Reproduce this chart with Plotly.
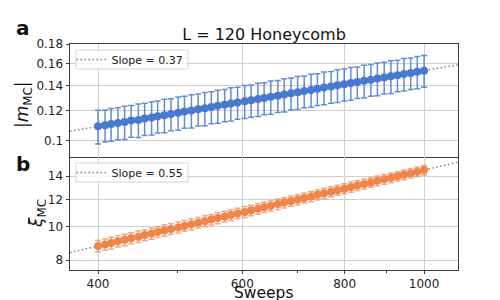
import numpy as np
import plotly.graph_objects as go
from plotly.subplots import make_subplots

# ---- data ----
sweeps = [400, 408, 415, 423, 431, 439, 448, 456, 465, 473, 482, 491, 501, 510, 520,
          530, 540, 550, 560, 571, 581, 592, 604, 615, 627, 638, 650, 663, 675, 688,
          701, 714, 728, 741, 755, 770, 784, 799, 814, 829, 845, 861, 877, 894, 911,
          928, 945, 963, 981, 1000]

m_mc = [0.1093, 0.1100, 0.1108, 0.1115, 0.1121, 0.1131, 0.1136, 0.1145, 0.1152, 0.1162,
        0.1169, 0.1178, 0.1186, 0.1195, 0.1202, 0.1212, 0.1219, 0.1228, 0.1237, 0.1245,
        0.1254, 0.1262, 0.1272, 0.1279, 0.1289, 0.1298, 0.1307, 0.1316, 0.1325, 0.1335,
        0.1344, 0.1353, 0.1363, 0.1372, 0.1382, 0.1391, 0.1402, 0.1411, 0.1421, 0.1430,
        0.1440, 0.1450, 0.1460, 0.1470, 0.1480, 0.1490, 0.1501, 0.1511, 0.1521, 0.1532]

m_err = [0.0112, 0.0106, 0.0110, 0.0108, 0.0113, 0.0109, 0.0115, 0.0111, 0.0116, 0.0113,
         0.0118, 0.0114, 0.0119, 0.0116, 0.0121, 0.0118, 0.0123, 0.0119, 0.0124, 0.0121,
         0.0126, 0.0122, 0.0127, 0.0124, 0.0129, 0.0126, 0.0131, 0.0127, 0.0133, 0.0129,
         0.0134, 0.0131, 0.0136, 0.0132, 0.0137, 0.0134, 0.0139, 0.0136, 0.0141, 0.0137,
         0.0143, 0.0139, 0.0144, 0.0141, 0.0146, 0.0142, 0.0148, 0.0144, 0.0149, 0.0147]

xi_mc = [8.80, 8.89, 8.98, 9.08, 9.17, 9.27, 9.36, 9.46, 9.56, 9.66,
         9.76, 9.86, 9.96, 10.06, 10.17, 10.27, 10.38, 10.49, 10.60, 10.71,
         10.82, 10.93, 11.04, 11.16, 11.27, 11.39, 11.51, 11.63, 11.75, 11.87,
         11.99, 12.12, 12.24, 12.37, 12.50, 12.63, 12.76, 12.89, 13.03, 13.16,
         13.30, 13.44, 13.58, 13.72, 13.86, 14.00, 14.15, 14.29, 14.44, 14.59]

xi_err = [0.34, 0.33, 0.35, 0.34, 0.35, 0.34, 0.36, 0.35, 0.36, 0.35,
          0.37, 0.36, 0.37, 0.36, 0.38, 0.37, 0.38, 0.37, 0.39, 0.38,
          0.39, 0.38, 0.40, 0.39, 0.40, 0.39, 0.41, 0.40, 0.41, 0.40,
          0.42, 0.41, 0.42, 0.41, 0.43, 0.42, 0.43, 0.42, 0.44, 0.43,
          0.44, 0.43, 0.45, 0.44, 0.45, 0.44, 0.46, 0.45, 0.46, 0.46]

x_ticks = [400, 600, 800, 1000]
x_minor = [500, 700, 900]
m_ticks = [0.1, 0.12, 0.14, 0.16, 0.18]
m_ticktext = ["0.1", "0.12", "0.14", "0.16", "0.18"]
xi_ticks = [8, 10, 12, 14]

X_MIN, X_MAX = 369.7, 1100.0
title_text = "L = 120 Honeycomb"
x_label = "Sweeps"
m_label = "|<i>m</i><sub>MC</sub>|"
xi_label = "<i>ξ</i><sub>MC</sub>"

BLUE = "#4878d0"
ORANGE = "#ee854a"
FONT = "DejaVu Sans"

# ---- power-law fits in log-log space ----
lx = np.log10(sweeps)
sm, im = np.polyfit(lx, np.log10(m_mc), 1)
sx, ix = np.polyfit(lx, np.log10(xi_mc), 1)
fit_x = np.array([X_MIN, X_MAX])
fit_m = 10 ** (im + sm * np.log10(fit_x))
fit_xi = 10 ** (ix + sx * np.log10(fit_x))

fig = make_subplots(rows=2, cols=1, shared_xaxes=True, vertical_spacing=0)

fig.add_trace(go.Scatter(x=fit_x, y=fit_m, mode="lines",
                         line=dict(color="#808080", width=1.5, dash="1.5px,2.5px"),
                         name=f"Slope = {sm:.2f}", legend="legend"), row=1, col=1)
fig.add_trace(go.Scatter(x=sweeps, y=m_mc, mode="markers",
                         marker=dict(color=BLUE, size=8),
                         error_y=dict(type="data", array=m_err, color="rgba(72,120,208,0.85)",
                                      thickness=1.5, width=3),
                         showlegend=False), row=1, col=1)

fig.add_trace(go.Scatter(x=fit_x, y=fit_xi, mode="lines",
                         line=dict(color="#808080", width=1.5, dash="1.5px,2.5px"),
                         name=f"Slope = {sx:.2f}", legend="legend2"), row=2, col=1)
fig.add_trace(go.Scatter(x=sweeps, y=xi_mc, mode="markers",
                         marker=dict(color=ORANGE, size=8),
                         error_y=dict(type="data", array=xi_err, color="rgba(238,133,74,0.7)",
                                      thickness=1.5, width=3),
                         showlegend=False), row=2, col=1)

axis_common = dict(showline=True, linecolor="#3a3a3a", linewidth=1,
                   showgrid=True, gridcolor="#cfcfcf", gridwidth=1, zeroline=False,
                   tickcolor="#3a3a3a", automargin=False,
                   tickfont=dict(size=12, color="#222222", family=FONT))

fig.update_xaxes(type="log", range=[np.log10(X_MIN), np.log10(X_MAX)],
                 tickvals=x_ticks, ticktext=[str(v) for v in x_ticks],
                 **axis_common)
fig.update_xaxes(showticklabels=False, ticks="", mirror=True, row=1, col=1)
fig.update_xaxes(mirror=False, ticks="outside", ticklen=3,
                 minor=dict(tickvals=x_minor, ticklen=2, tickcolor="#3a3a3a",
                            ticks="outside", showgrid=False),
                 row=2, col=1)

fig.update_yaxes(type="log", range=[-1.0425, -0.7445], tickvals=m_ticks, ticktext=m_ticktext,
                 mirror=True, ticks="outside", ticklen=3.5,
                 row=1, col=1, **axis_common)
fig.update_yaxes(type="log", range=[0.875, 1.2019], tickvals=xi_ticks,
                 ticktext=[str(v) for v in xi_ticks],
                 mirror=True, ticks="outside", ticklen=3.5,
                 row=2, col=1, **axis_common)
fig.update_layout(yaxis=dict(domain=[0.5, 1.0]), yaxis2=dict(domain=[0.0, 0.5]))

legend_style = dict(xanchor="left", yanchor="top", bgcolor="rgba(0,0,0,0)",
                    borderwidth=0,
                    font=dict(size=11, color="#222222", family=FONT),
                    tracegroupgap=0, itemwidth=30)

# legend frames (decoration behind the legend entries)
frame_style = dict(type="rect", xref="paper", yref="paper", layer="above",
                   line=dict(color="#d4d4d4", width=1), fillcolor="rgba(255,255,255,0.8)")

label_style = dict(xref="paper", yref="paper", showarrow=False)

fig.update_layout(
    width=500, height=300,
    margin=dict(l=62, r=50, t=36, b=38, autoexpand=False),
    paper_bgcolor="white", plot_bgcolor="white",
    font=dict(family=FONT, color="#111111"),
    title=dict(text=title_text, x=0.512, xanchor="center", y=0.913, yanchor="middle",
               yref="container", font=dict(size=16, color="#111111")),
    legend=dict(x=0.004, y=0.9956, **legend_style),
    legend2=dict(x=0.004, y=0.4956, **legend_style),
    shapes=[
        dict(x0=0.0155, x1=0.3041, y0=0.8894, y1=0.9735, **frame_style),
        dict(x0=0.0155, x1=0.3041, y0=0.3894, y1=0.4735, **frame_style),
    ],
    annotations=[
        dict(text="<b>a</b>", x=-0.144, y=1.0708, xanchor="left", yanchor="middle",
             font=dict(size=20, color="#111111"), **label_style),
        dict(text="<b>b</b>", x=-0.144, y=0.469, xanchor="left", yanchor="middle",
             font=dict(size=20, color="#111111"), **label_style),
        dict(text=m_label, x=-0.1198, y=0.7323, xanchor="center", yanchor="middle",
             textangle=-90, font=dict(size=17, color="#111111"), **label_style),
        dict(text=xi_label, x=-0.0851, y=0.2522, xanchor="center", yanchor="middle",
             textangle=-90, font=dict(size=17, color="#111111"), **label_style),
        dict(text=x_label, x=0.5, y=-0.1018, xanchor="center", yanchor="middle",
             borderpad=0, font=dict(size=15.5, color="#111111"), **label_style),
    ],
)

fig.write_html("out.html")
